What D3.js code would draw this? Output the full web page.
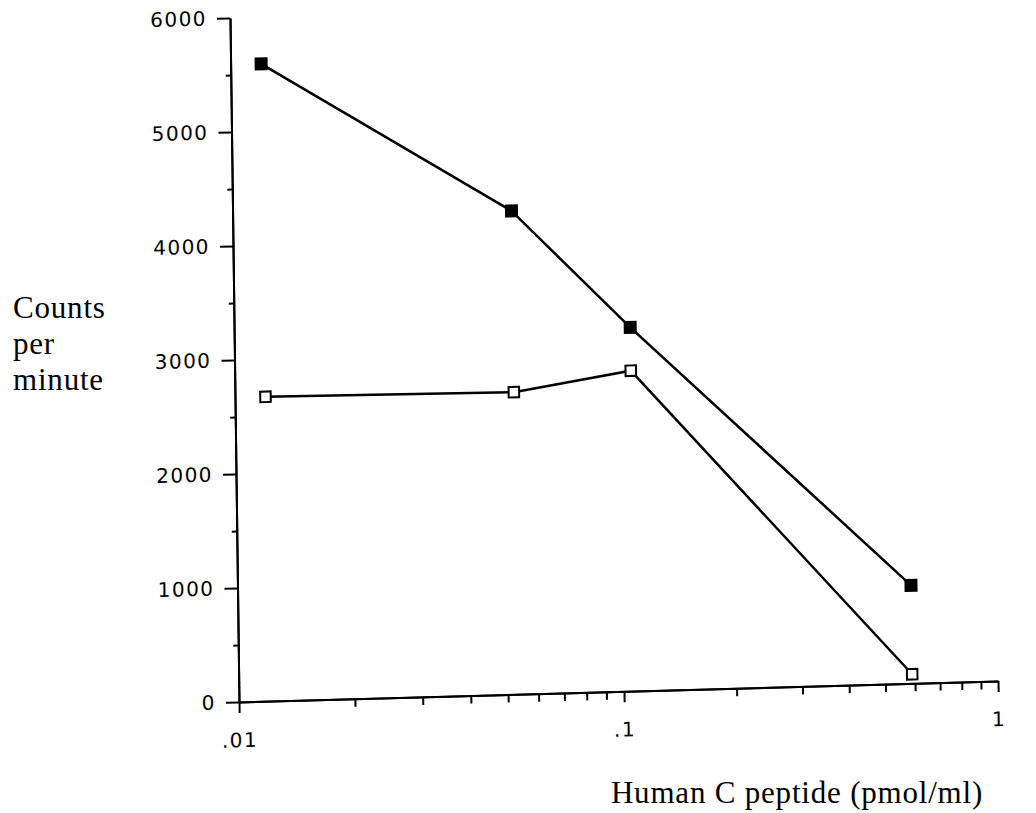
<!DOCTYPE html>
<html>
<head>
<meta charset="utf-8">
<script src="https://cdn.jsdelivr.net/npm/d3@7"></script>
<style>
  body { margin: 0; background: #fff; }
  svg { display: block; }
  .tick text { font-family: "DejaVu Sans", sans-serif; font-size: 20px; letter-spacing: 1.5px; fill: #000; }
  .tick line, .domain { stroke: #000; stroke-width: 2px; }
  .title { font-family: "Liberation Serif", "Times New Roman", serif; font-size: 31px; letter-spacing: 0.8px; fill: #000; }
</style>
</head>
<body>
<svg width="1036" height="813"></svg>
<script>
// Values
const concentration = [0.012, 0.053, 0.107, 0.59];   // pmol/ml
const cpmFilled = [5590, 4240, 3190, 860];
const cpmOpen = [2670, 2650, 2810, 80];

const yMajorTicks = [0, 1000, 2000, 3000, 4000, 5000, 6000];
const yMinorTicks = [500, 1500, 2500, 3500, 4500, 5500];
const xMajorTicks = [0.01, 0.1, 1];
const xTickLabels = [".01", ".1", "1"];

const svg = d3.select("svg");

const plotW = 759, plotH = 684;

// two decades, slightly uneven as on the scan
const x = d3.scaleLog()
  .domain([0.01, 0.1, 1])
  .range([0, 385, plotW]);

const y = d3.scaleLinear()
  .domain([0, 6000])
  .range([0, -plotH]);

// the original is a slightly skewed scan, so the plot frame is sheared a bit
const g = svg.append("g")
  .attr("transform", "matrix(1,-0.02767,0.01316,1,239,702)");

// y axis
g.append("g")
  .call(d3.axisLeft(y).tickValues(yMinorTicks).tickSize(5).tickSizeOuter(0).tickFormat(""));
g.append("g")
  .call(d3.axisLeft(y).tickValues(yMajorTicks).tickSize(13).tickPadding(10).tickSizeOuter(0).tickFormat(d3.format("d")));

// x axis
const xMinorTicks = x.ticks().filter(d => !xMajorTicks.some(m => Math.abs(m - d) < 1e-9));
g.append("g")
  .call(d3.axisBottom(x).tickValues(xMinorTicks).tickSize(8).tickSizeOuter(0).tickFormat(""));
g.append("g")
  .call(d3.axisBottom(x).tickValues(xMajorTicks).tickSize(11).tickPadding(20).tickSizeOuter(0)
    .tickFormat((d, i) => xTickLabels[i]));

// series
const filled = concentration.map((c, i) => ({ c, v: cpmFilled[i] }));
const open = concentration.map((c, i) => ({ c, v: cpmOpen[i] }));

const line = d3.line()
  .x(d => x(d.c))
  .y(d => y(d.v));

[filled, open].forEach(s => {
  g.append("path")
    .datum(s)
    .attr("d", line)
    .attr("fill", "none")
    .attr("stroke", "#000")
    .attr("stroke-width", 2.5);
});

g.append("g")
  .selectAll("rect")
  .data(filled)
  .join("rect")
  .attr("x", d => x(d.c) - 6.5)
  .attr("y", d => y(d.v) - 6.5)
  .attr("width", 13)
  .attr("height", 13)
  .attr("fill", "#000");

g.append("g")
  .selectAll("rect")
  .data(open)
  .join("rect")
  .attr("x", d => x(d.c) - 5.25)
  .attr("y", d => y(d.v) - 5.25)
  .attr("width", 10.5)
  .attr("height", 10.5)
  .attr("fill", "#fff")
  .attr("stroke", "#000")
  .attr("stroke-width", 2);

// axis titles
const yTitle = svg.append("text")
  .attr("class", "title")
  .attr("x", 13);
["Counts", "per", "minute"].forEach((t, i) => {
  yTitle.append("tspan")
    .attr("x", 13)
    .attr("y", 318 + i * 36)
    .text(t);
});

svg.append("text")
  .attr("class", "title")
  .attr("x", 797)
  .attr("y", 803)
  .attr("text-anchor", "middle")
  .text("Human C peptide (pmol/ml)");
</script>
</body>
</html>
